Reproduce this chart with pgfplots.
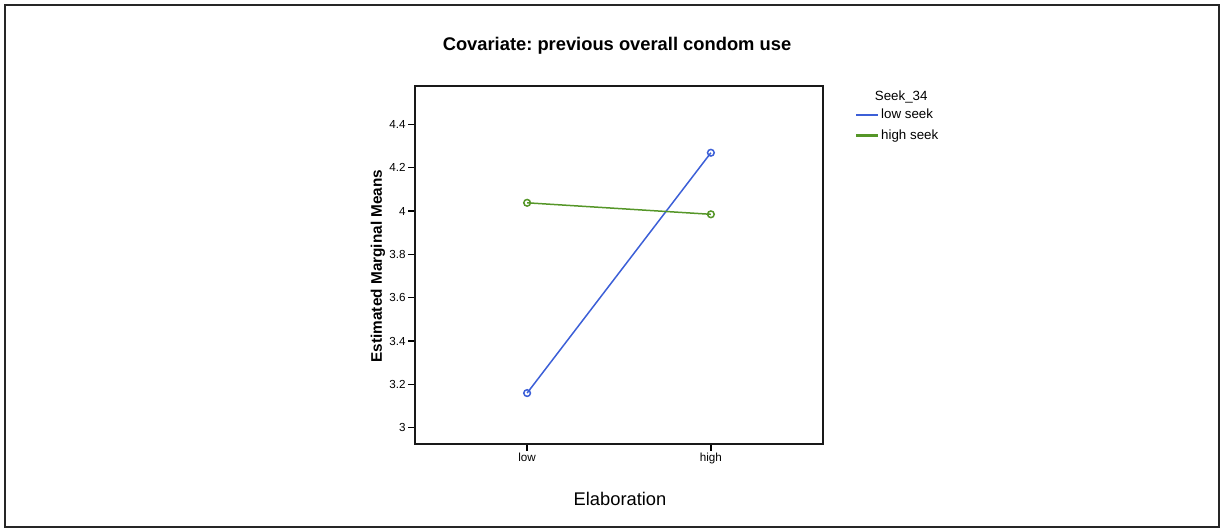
\documentclass[border=0pt]{standalone}
\usepackage{fontspec}
\setmainfont{Liberation Sans}
\usepackage{pgfplots}
\pgfplotsset{compat=1.18}
\definecolor{lowseek}{RGB}{60,95,215}
\definecolor{highseek}{RGB}{85,150,40}
\frenchspacing
\begin{document}
\begin{tikzpicture}[x=0.6pt,y=0.6pt]
\useasboundingbox (0,0) rectangle (1223,530);
\draw[line width=1.2pt, black!85] (5,3) rectangle (1219,525);
\begin{axis}[
  at={(249pt,51.6pt)}, anchor=south west,
  scale only axis, width=244.8pt, height=214.8pt,
  xmin=-0.61, xmax=1.61, ymin=2.925, ymax=4.577,
  xtick={0,1}, xticklabels={low,high},
  ytick={3,3.2,3.4,3.6,3.8,4,4.2,4.4},
  tick align=outside, tick pos=left,
  major tick length=4pt,
  tick label style={font=\fontsize{7}{8}\selectfont, inner sep=1.5pt},
  /pgf/number format/assume math mode=true,
  axis line style={line width=0.9pt, black!90},
  tick style={line width=0.8pt, black},
  legend style={at={(1.081,0.946)}, anchor=north west, draw=none, inner sep=0pt,
    font=\fontsize{8}{9}\selectfont, row sep=1pt, fill=none},
  legend cell align=left,
  legend image code/.code={\fill[#1,mark=none] (0pt,-0.33pt) rectangle (12pt,0.33pt);},
]
\addplot[lowseek, fill=lowseek, line width=0.9pt, mark=o, mark size=2pt, mark options={fill=none}] coordinates {(0,3.16) (1,4.269)};
\addlegendentry{low seek}
\addplot[highseek, fill=highseek, line width=0.9pt, mark=o, mark size=2pt, mark options={fill=none}] coordinates {(0,4.038) (1,3.985)};
\addlegendentry{high seek}
\end{axis}
\node[anchor=west, font=\fontsize{8}{9}\selectfont] at (869,433) {Seek\_34};
\node[font=\bfseries\fontsize{11}{13}\selectfont] at (617,484) {Covariate: previous overall condom use};
\node[font=\fontsize{11}{13}\selectfont] at (620,31) {Elaboration};
\node[rotate=90, font=\bfseries\fontsize{9.2}{11}\selectfont] at (378,264) {Estimated Marginal Means};
\end{tikzpicture}
\end{document}
